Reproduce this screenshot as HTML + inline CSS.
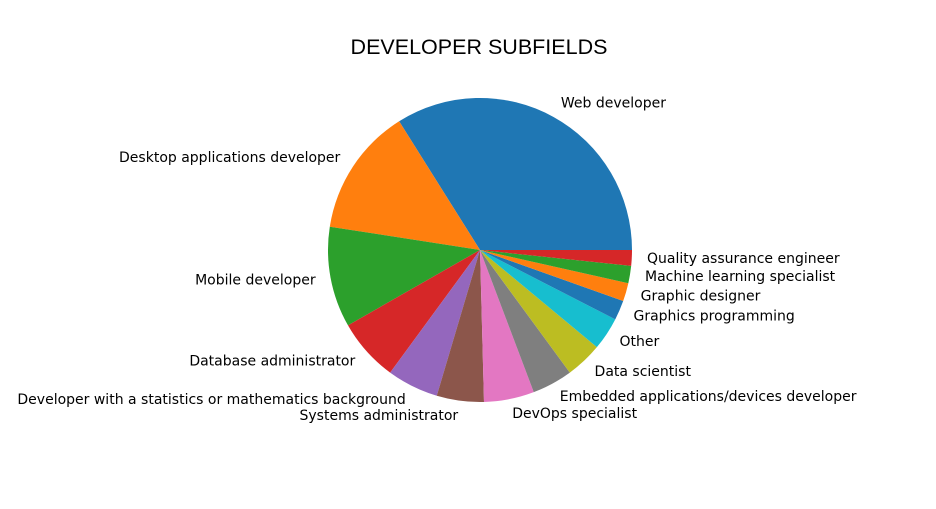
<!DOCTYPE html>
<html><head><meta charset="utf-8"><style>
body{margin:0;background:#fff;}
svg text{font-family:"DejaVu Sans","Liberation Sans",sans-serif;}
</style></head><body>
<svg id="chart" width="936" height="504" viewBox="0 0 936 504" xmlns="http://www.w3.org/2000/svg">
<rect width="936" height="504" fill="#fff"/>
<text x="479" y="54" text-anchor="middle" font-size="21.5" fill="#000" style="font-family:'Liberation Sans',sans-serif">DEVELOPER SUBFIELDS</text>
<g id="slices"></g>
<g id="labels"></g>
</svg>
<script>
const categories = ["Web developer","Desktop applications developer","Mobile developer","Database administrator","Developer with a statistics or mathematics background","Systems administrator","DevOps specialist","Embedded applications/devices developer","Data scientist","Other","Graphics programming","Graphic designer","Machine learning specialist","Quality assurance engineer"];
const values = [122,49,38.5,24,19.7,18,19.2,15.5,14,12.6,7.5,7,6.6,6];
const colors = ["#1f77b4","#ff7f0e","#2ca02c","#d62728","#9467bd","#8c564b","#e377c2","#7f7f7f","#bcbd22","#17becf","#1f77b4","#ff7f0e","#2ca02c","#d62728"];
const cx=480, cy=250, r=152;
const NS="http://www.w3.org/2000/svg";
const total=values.reduce((a,b)=>a+b,0);
const sg=document.getElementById('slices'), lg=document.getElementById('labels');
let a0=0;
function pt(a,rr){const t=a*Math.PI/180;return [cx+rr*Math.cos(t),cy-rr*Math.sin(t)];}
values.forEach((v,i)=>{
  const a1=a0+v/total*360;
  const [x0,y0]=pt(a0,r),[x1,y1]=pt(a1,r);
  const large=(a1-a0)>180?1:0;
  const p=document.createElementNS(NS,'path');
  p.setAttribute('d',`M${cx},${cy} L${x0},${y0} A${r},${r} 0 ${large} 0 ${x1},${y1} Z`);
  p.setAttribute('fill',colors[i%colors.length]);
  
  
  sg.appendChild(p);
  const m=(a0+a1)/2;
  const [lx,ly]=pt(m,r*1.1);
  const t=document.createElementNS(NS,'text');
  t.setAttribute('x',lx);t.setAttribute('y',ly+4);
  t.setAttribute('font-size','14');
  t.setAttribute('text-anchor',lx>=cx?'start':'end');
  t.textContent=categories[i];
  
  
  lg.appendChild(t);
  a0=a1;
});
</script>
</body></html>
